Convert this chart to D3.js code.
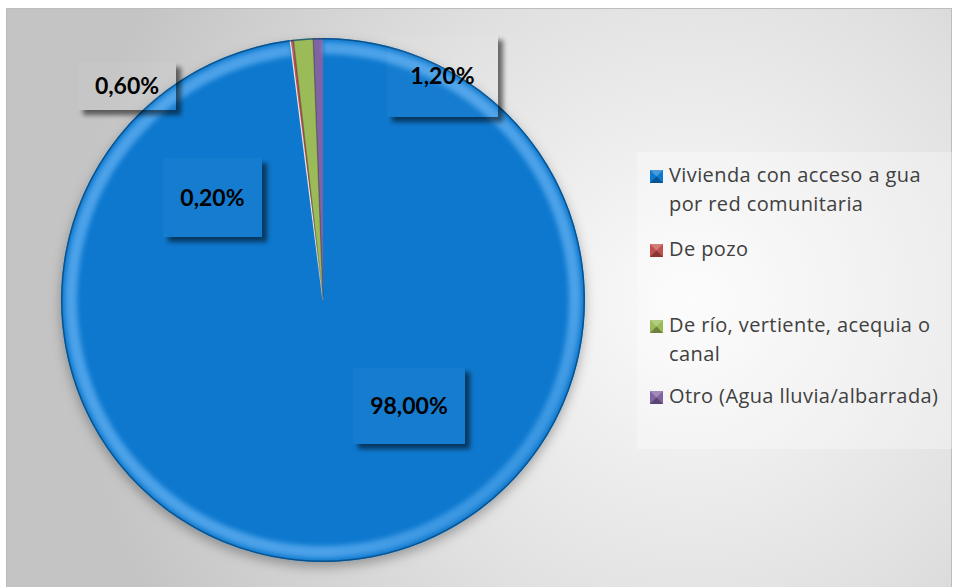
<!DOCTYPE html>
<html>
<head>
<meta charset="utf-8">
<script src="https://cdn.jsdelivr.net/npm/d3@7"></script>
<style>
	html, body { margin: 0; padding: 0; background: #fff; }
	svg { display: block; font-family: Lato, "Open Sans", sans-serif; }
</style>
</head>
<body>
<div id="chart"></div>
<script>
var categories = [
	"Vivienda con acceso a gua por red comunitaria",
	"De pozo",
	"De río, vertiente, acequia o canal",
	"Otro (Agua lluvia/albarrada)"
];
var legendLines = [
	["Vivienda con acceso a gua", "por red comunitaria"],
	["De pozo"],
	["De río, vertiente, acequia o", "canal"],
	["Otro (Agua lluvia/albarrada)"]
];
var values = [98.0, 0.2, 1.2, 0.6];
var valueLabels = ["98,00%", "0,20%", "1,20%", "0,60%"];
var colors = ["#0b78ce", "#c0504d", "#9bbb59", "#8064a2"];

// posiciones manuales de las etiquetas (centro de la caja, en radios desde el centro)
var labelPos = [[0.328, 0.403], [-0.422, -0.391], [0.456, -0.855], [-0.748, -0.817]];
var labelBox = [[112, 76], [99, 79], [111, 82], [98, 48]];
var legendBaselines = [182, 256, 332, 403];

var width = 958,
	height = 587,
	cx = 323,
	cy = 300,
	radius = 262;

var svg = d3.select("#chart").append("svg")
	.attr("width", width)
	.attr("height", height);

var defs = svg.append("defs");

var bg = defs.append("radialGradient")
	.attr("id", "bgGrad")
	.attr("gradientUnits", "userSpaceOnUse")
	.attr("cx", 690).attr("cy", 300).attr("r", 620);
bg.append("stop").attr("offset", 0).attr("stop-color", "#fbfbfb");
bg.append("stop").attr("offset", 0.55).attr("stop-color", "#e0e0e0");
bg.append("stop").attr("offset", 1).attr("stop-color", "#c4c4c4");

var rim = defs.append("linearGradient")
	.attr("id", "rimGrad")
	.attr("gradientUnits", "userSpaceOnUse")
	.attr("x1", cx - radius * 0.7).attr("y1", cy - radius * 0.7)
	.attr("x2", cx + radius * 0.7).attr("y2", cy + radius * 0.7);
rim.append("stop").attr("offset", 0).attr("stop-color", "#7fc4ff").attr("stop-opacity", 0.55);
rim.append("stop").attr("offset", 0.35).attr("stop-color", "#7fc4ff").attr("stop-opacity", 0.15);
rim.append("stop").attr("offset", 0.55).attr("stop-color", "#000").attr("stop-opacity", 0);
rim.append("stop").attr("offset", 1).attr("stop-color", "#001a33").attr("stop-opacity", 0.5);

var pieShadow = defs.append("filter")
	.attr("id", "pieShadow")
	.attr("x", "-10%").attr("y", "-10%")
	.attr("width", "120%").attr("height", "125%");
pieShadow.append("feDropShadow")
	.attr("dx", 0).attr("dy", 5)
	.attr("stdDeviation", 6)
	.attr("flood-color", "#000")
	.attr("flood-opacity", 0.3);

var boxShadow = defs.append("filter")
	.attr("id", "boxShadow")
	.attr("x", "-20%").attr("y", "-20%")
	.attr("width", "150%").attr("height", "160%");
boxShadow.append("feColorMatrix")
	.attr("in", "SourceAlpha")
	.attr("type", "matrix")
	.attr("values", "0 0 0 0 0  0 0 0 0 0  0 0 0 0 0  0 0 0 200 0")
	.attr("result", "solid");
boxShadow.append("feGaussianBlur")
	.attr("in", "solid")
	.attr("stdDeviation", 2.5)
	.attr("result", "blur");
boxShadow.append("feOffset")
	.attr("in", "blur")
	.attr("dx", 5).attr("dy", 5)
	.attr("result", "off");
boxShadow.append("feComponentTransfer")
	.attr("in", "off")
	.attr("result", "soft")
	.append("feFuncA").attr("type", "linear").attr("slope", 0.55);
boxShadow.append("feComposite")
	.attr("in", "soft")
	.attr("in2", "solid")
	.attr("operator", "out")
	.attr("result", "outside");
var merge = boxShadow.append("feMerge");
merge.append("feMergeNode").attr("in", "outside");
merge.append("feMergeNode").attr("in", "SourceGraphic");

var soft = defs.append("filter").attr("id", "soft")
	.attr("x", "-5%").attr("y", "-5%")
	.attr("width", "110%").attr("height", "110%");
soft.append("feGaussianBlur").attr("stdDeviation", 2.5);

// fondo del área del gráfico
svg.append("rect")
	.attr("x", 6.5).attr("y", 8.5)
	.attr("width", 945).attr("height", 590)
	.attr("fill", "url(#bgGrad)")
	.attr("stroke", "#bdbdbd")
	.attr("stroke-width", 1);

// tarta
var pie = d3.pie()
	.sort(null)
	.value(function(d) { return d; });

var arcs = pie(values);

var arc = d3.arc()
	.innerRadius(0)
	.outerRadius(radius);

var rimArc = d3.arc()
	.innerRadius(radius - 16)
	.outerRadius(radius - 4);

var pieG = svg.append("g")
	.attr("class", "pie")
	.attr("transform", "translate(" + cx + "," + cy + ")");

var slices = pieG.append("g")
	.attr("filter", "url(#pieShadow)");

slices.selectAll("path.slice")
	.data(arcs)
	.enter().append("path")
	.attr("class", "slice")
	.attr("d", arc)
	.attr("fill", function(d, i) { return colors[i]; });

// bisel: brillo arriba a la izquierda, sombra abajo a la derecha
var rimG = pieG.append("g")
	.attr("transform", "translate(" + (-cx) + "," + (-cy) + ")");

rimG.append("path")
	.attr("transform", "translate(" + cx + "," + cy + ")")
	.attr("d", rimArc(arcs[0]))
	.attr("fill", "url(#rimGrad)")
	.attr("filter", "url(#soft)");

// bordes radiales sombreados de las porciones pequeñas
pieG.selectAll("line.edge")
	.data(arcs.slice(1))
	.enter().append("line")
	.attr("class", "edge")
	.attr("x1", 0).attr("y1", 0)
	.attr("x2", function(d) { return Math.sin(d.startAngle) * radius; })
	.attr("y2", function(d) { return -Math.cos(d.startAngle) * radius; })
	.attr("stroke", function(d, i) { return i === 0 ? "#f2f2f2" : "#000"; })
	.attr("stroke-opacity", function(d, i) { return i === 0 ? 0.9 : 0.3; })
	.attr("stroke-width", 1.2);

pieG.append("path")
	.attr("d", d3.arc().innerRadius(radius - 1.5).outerRadius(radius)({ startAngle: 0, endAngle: 2 * Math.PI }))
	.attr("fill", "#05457a")
	.attr("fill-opacity", 0.75);

// etiquetas de datos
var labels = svg.append("g").attr("class", "labels");

var label = labels.selectAll("g.label")
	.data(arcs)
	.enter().append("g")
	.attr("class", "label")
	.attr("transform", function(d, i) {
		return "translate(" + (cx + labelPos[i][0] * radius) + "," + (cy + labelPos[i][1] * radius) + ")";
	});

label.append("rect")
	.attr("x", function(d, i) { return -labelBox[i][0] / 2; })
	.attr("y", function(d, i) { return -labelBox[i][1] / 2; })
	.attr("width", function(d, i) { return labelBox[i][0]; })
	.attr("height", function(d, i) { return labelBox[i][1]; })
	.attr("fill", "#fff")
	.attr("fill-opacity", 0.03)
	.attr("filter", "url(#boxShadow)");

label.append("text")
	.attr("text-anchor", "middle")
	.attr("dy", "0.36em")
	.attr("font-size", 23)
	.attr("font-weight", "bold")
	.attr("fill", "#000")
	.text(function(d, i) { return valueLabels[i]; });

// leyenda
var legend = svg.append("g").attr("class", "legend");

legend.append("rect")
	.attr("x", 637).attr("y", 152)
	.attr("width", 316).attr("height", 297)
	.attr("fill", "#fff")
	.attr("fill-opacity", 0.3);

var item = legend.selectAll("g.item")
	.data(categories)
	.enter().append("g")
	.attr("class", "item")
	.attr("transform", function(d, i) { return "translate(650," + legendBaselines[i] + ")"; });

item.append("rect")
	.attr("x", 0).attr("y", -12)
	.attr("width", 13).attr("height", 13)
	.attr("fill", function(d, i) { return colors[i]; });

item.append("path")
	.attr("d", "M0,-12L6.5,-5.5L13,-12Z")
	.attr("fill", "#fff").attr("fill-opacity", 0.25);
item.append("path")
	.attr("d", "M0,1L6.5,-5.5L13,1Z")
	.attr("fill", "#000").attr("fill-opacity", 0.3);

item.append("text")
	.attr("x", 19)
	.attr("font-family", "'Open Sans', sans-serif")
	.attr("font-size", 20)
	.attr("letter-spacing", 0.4)
	.attr("fill", "#404040")
	.selectAll("tspan")
	.data(function(d, i) { return legendLines[i]; })
	.enter().append("tspan")
	.attr("x", 19)
	.attr("y", function(d, j) { return j * 28.5; })
	.text(function(d) { return d; });
</script>
</body>
</html>
